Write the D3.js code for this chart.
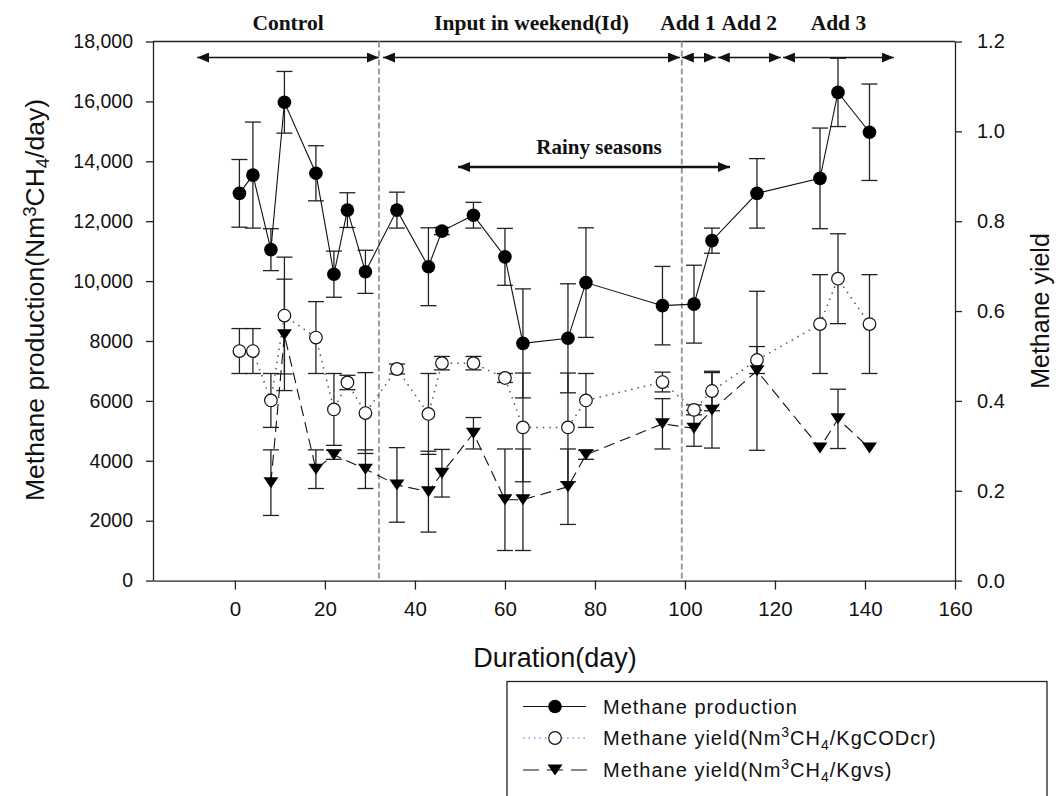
<!DOCTYPE html>
<html lang="en">
<head>
<meta charset="UTF-8">
<title>Methane production</title>
<script src="https://cdn.jsdelivr.net/npm/d3@7"></script>
<style>
    html, body {
        margin: 0;
        padding: 0;
        background: #fff;
    }
    svg text {
        font-family: "Liberation Sans", Arial, sans-serif;
        fill: #111;
    }
    .note {
        font-family: "Liberation Serif", "Times New Roman", serif;
        font-weight: bold;
    }
</style>
</head>
<body>
<svg id="chart" width="1056" height="796"></svg>
<script>
    // sampling days (all series except the Kgvs one)
    const days = [1, 4, 8, 11, 18, 22, 25, 29, 36, 43, 46, 53, 60, 64, 74, 78, 95, 102, 106, 116, 130, 134, 141];
    // Methane production (Nm3CH4/day) and its error
    const production = [12930, 13540, 11050, 15970, 13600, 10230, 12370, 10310, 12370, 10480, 11670, 12200, 10810,
        7920, 8090, 9950, 9180, 9230, 11350, 12930, 13430, 16300, 14970];
    const productionErr = [1130, 1770, 700, 1030, 920, 770, 580, 720, 600, 1300, 120, 430, 950,
        1820, 1820, 1830, 1310, 1300, 420, 1160, 1680, 1140, 1610];
    // Methane yield (Nm3CH4/KgCODcr)
    const codYield = [0.511, 0.511, 0.401, 0.590, 0.541, 0.381, 0.441, 0.373, 0.471, 0.371, 0.484, 0.484, 0.451,
        0.341, 0.341, 0.401, 0.442, 0.380, 0.422, 0.491, 0.571, 0.672, 0.571];
    const codErr = [0.05, 0.05, 0.06, 0.13, 0.08, 0.08, 0.016, 0.09, 0.011, 0.09, 0.015, 0.015, 0.01,
        0.121, 0.121, 0.06, 0.022, 0.011, 0.044, 0.03, 0.11, 0.1, 0.11];
    // Methane yield (Nm3CH4/Kgvs)
    const vsDays = [8, 11, 18, 22, 29, 36, 43, 46, 53, 60, 64, 74, 78, 95, 102, 106, 116, 130, 134, 141];
    const vsYield = [0.218, 0.547, 0.248, 0.280, 0.248, 0.213, 0.198, 0.239, 0.328, 0.180, 0.180, 0.209, 0.280,
        0.349, 0.339, 0.379, 0.467, 0.295, 0.360, 0.295];
    const vsErr = [0.073, 0.124, 0.043, 0.01, 0.043, 0.083, 0.09, 0.053, 0.035, 0.113, 0.113, 0.084, 0.01,
        0.056, 0.04, 0.084, 0.177, 0, 0.066, 0];

    const xTicks = [0, 20, 40, 60, 80, 100, 120, 140, 160];
    const leftTicks = [0, 2000, 4000, 6000, 8000, 10000, 12000, 14000, 16000, 18000];
    const rightTicks = [0, 0.2, 0.4, 0.6, 0.8, 1.0, 1.2];

    // operating periods (days)
    const periodLabels = ["Control", "Input in weekend(Id)", "Add 1", "Add 2", "Add 3"];
    const periodStart = [-8.4, 32.9, 99.3, 107.3, 121.8];
    const periodEnd = [32, 98.9, 106.9, 121.3, 146.4];
    const phaseLines = [32, 99.3];
    const rainyStart = 49.6, rainyEnd = 110;

    const svg = d3.select("#chart");

    const x = d3.scaleLinear().domain([-18.2, 160]).range([153, 955]);
    const yL = d3.scaleLinear().domain([0, 18000]).range([580.6, 41.5]);
    const yR = d3.scaleLinear().domain([0, 1.2]).range([580.6, 41.5]);

    // arrow head
    svg.append("defs").append("marker")
        .attr("id", "head")
        .attr("viewBox", "0 0 12 10")
        .attr("refX", 12).attr("refY", 5)
        .attr("markerWidth", 12).attr("markerHeight", 10)
        .attr("markerUnits", "userSpaceOnUse")
        .attr("orient", "auto-start-reverse")
        .append("path").attr("d", "M0,0L12,5L0,10Z").attr("fill", "#111");

    // axes
    const styleAxis = size => g => {
        g.selectAll("path, line").attr("stroke", "#222").attr("stroke-width", 1.3);
        g.selectAll("text").style("font-size", size).attr("fill", "#111");
    };

    svg.append("g")
        .attr("transform", "translate(153,0)")
        .call(d3.axisLeft(yL).tickValues(leftTicks).tickSize(7).tickSizeOuter(0).tickPadding(13)
            .tickFormat(v => v >= 10000 ? d3.format(",")(v) : v))
        .call(styleAxis("19.5px"));

    svg.append("g")
        .attr("transform", "translate(955,0)")
        .call(d3.axisRight(yR).tickValues(rightTicks).tickSize(7).tickSizeOuter(0).tickPadding(15)
            .tickFormat(d3.format(".1f")))
        .call(styleAxis("20px"));

    svg.append("g")
        .attr("transform", "translate(0,580.6)")
        .call(d3.axisBottom(x).tickValues(xTicks).tickSize(9).tickSizeOuter(0).tickPadding(12))
        .call(styleAxis("20.5px"));

    // top frame
    svg.append("line")
        .attr("x1", x.range()[0]).attr("x2", x.range()[1])
        .attr("y1", yL.range()[1]).attr("y2", yL.range()[1])
        .attr("stroke", "#222").attr("stroke-width", 1.3);

    // axis titles
    svg.append("text")
        .attr("x", 555).attr("y", 667)
        .attr("text-anchor", "middle")
        .style("font-size", "27px")
        .text("Duration(day)");

    const leftTitle = svg.append("text")
        .attr("transform", "translate(44,300) rotate(-90)")
        .attr("text-anchor", "middle")
        .style("font-size", "26.5px");
    richText(leftTitle, [["Methane production(Nm", ""], ["3", "sup"], ["CH", ""], ["4", "sub"], ["/day)", ""]]);

    svg.append("text")
        .attr("transform", "translate(1049,311) rotate(-90)")
        .attr("text-anchor", "middle")
        .style("font-size", "25px")
        .text("Methane yield");

    // phase boundaries
    svg.selectAll(".phase")
        .data(phaseLines)
        .enter().append("line")
        .attr("class", "phase")
        .attr("x1", d => x(d)).attr("x2", d => x(d))
        .attr("y1", yL.range()[1]).attr("y2", yL.range()[0])
        .attr("stroke", "#9a9a9a").attr("stroke-width", 2)
        .attr("stroke-dasharray", "6,3");

    // period arrows and labels
    const arrowY = 57.5;
    periodLabels.forEach((label, i) => {
        svg.append("line")
            .attr("x1", x(periodStart[i])).attr("x2", x(periodEnd[i]))
            .attr("y1", arrowY).attr("y2", arrowY)
            .attr("stroke", "#111").attr("stroke-width", 1.5)
            .attr("marker-start", "url(#head)").attr("marker-end", "url(#head)");
        const shift = label === "Add 1" ? -11 : 0;
        svg.append("text")
            .attr("class", "note")
            .attr("x", (x(periodStart[i]) + x(periodEnd[i])) / 2 + shift)
            .attr("y", 30)
            .attr("text-anchor", "middle")
            .style("font-size", "21.5px")
            .text(label);
    });

    svg.append("line")
        .attr("x1", x(rainyStart)).attr("x2", x(rainyEnd))
        .attr("y1", 167).attr("y2", 167)
        .attr("stroke", "#111").attr("stroke-width", 2.5)
        .attr("marker-start", "url(#head)").attr("marker-end", "url(#head)");
    svg.append("text")
        .attr("class", "note")
        .attr("x", (x(rainyStart) + x(rainyEnd)) / 2 + 5)
        .attr("y", 154)
        .attr("text-anchor", "middle")
        .style("font-size", "21px")
        .text("Rainy seasons");

    // error bars
    function errorBars(xs, ys, es, yScale) {
        const g = svg.append("g").attr("stroke", "#222").attr("stroke-width", 1.3);
        xs.forEach((d, i) => {
            if (!es[i]) return;
            const cx = x(d), top = yScale(ys[i] + es[i]), bot = yScale(ys[i] - es[i]);
            g.append("line").attr("x1", cx).attr("x2", cx).attr("y1", top).attr("y2", bot);
            g.append("line").attr("x1", cx - 8).attr("x2", cx + 8).attr("y1", top).attr("y2", top);
            g.append("line").attr("x1", cx - 8).attr("x2", cx + 8).attr("y1", bot).attr("y2", bot);
        });
    }

    errorBars(days, production, productionErr, yL);
    errorBars(days, codYield, codErr, yR);
    errorBars(vsDays, vsYield, vsErr, yR);

    // connecting lines
    const lineL = d3.line().x(d => x(d[0])).y(d => yL(d[1]));
    const lineR = d3.line().x(d => x(d[0])).y(d => yR(d[1]));

    svg.append("path")
        .datum(d3.zip(days, production))
        .attr("d", lineL)
        .attr("fill", "none").attr("stroke", "#111").attr("stroke-width", 1.1);

    svg.append("path")
        .datum(d3.zip(days, codYield))
        .attr("d", lineR)
        .attr("fill", "none").attr("stroke", "#555").attr("stroke-width", 1.5)
        .attr("stroke-dasharray", "1.5,5");

    svg.append("path")
        .datum(d3.zip(vsDays, vsYield))
        .attr("d", lineR)
        .attr("fill", "none").attr("stroke", "#111").attr("stroke-width", 1.1)
        .attr("stroke-dasharray", "11,6");

    // markers
    const tri = "M-7.5,-5.5L7.5,-5.5L0,5.5Z";

    svg.append("g").selectAll("circle")
        .data(d3.zip(days, production))
        .enter().append("circle")
        .attr("cx", d => x(d[0])).attr("cy", d => yL(d[1]))
        .attr("r", 6.8).attr("fill", "#000");

    svg.append("g").selectAll("circle")
        .data(d3.zip(days, codYield))
        .enter().append("circle")
        .attr("cx", d => x(d[0])).attr("cy", d => yR(d[1]))
        .attr("r", 6.3).attr("fill", "#fff").attr("stroke", "#111").attr("stroke-width", 1.2);

    svg.append("g").selectAll("path")
        .data(d3.zip(vsDays, vsYield))
        .enter().append("path")
        .attr("transform", d => `translate(${x(d[0])},${yR(d[1])})`)
        .attr("d", tri).attr("fill", "#000");

    // legend
    const legend = svg.append("g");
    legend.append("rect")
        .attr("x", 507).attr("y", 681.5).attr("width", 540).attr("height", 140)
        .attr("fill", "none").attr("stroke", "#222").attr("stroke-width", 1.3);

    const rows = [706.5, 738, 770];
    legend.append("line").attr("x1", 523).attr("x2", 586).attr("y1", rows[0]).attr("y2", rows[0])
        .attr("stroke", "#111").attr("stroke-width", 1.2);
    legend.append("circle").attr("cx", 555).attr("cy", rows[0]).attr("r", 6.8).attr("fill", "#000");

    legend.append("line").attr("x1", 523).attr("x2", 586).attr("y1", rows[1]).attr("y2", rows[1])
        .attr("stroke", "#c77ee8").attr("stroke-width", 1.5).attr("stroke-dasharray", "1.5,4");
    legend.append("circle").attr("cx", 555).attr("cy", rows[1]).attr("r", 6.3)
        .attr("fill", "#fff").attr("stroke", "#111").attr("stroke-width", 1.2);

    legend.append("line").attr("x1", 523).attr("x2", 587).attr("y1", rows[2]).attr("y2", rows[2])
        .attr("stroke", "#111").attr("stroke-width", 1.2).attr("stroke-dasharray", "16,8");
    legend.append("path").attr("transform", `translate(555,${rows[2]})`).attr("d", tri).attr("fill", "#000");

    const legendText = (y, parts) => {
        const t = legend.append("text").attr("x", 603).attr("y", y + 7)
            .style("font-size", "20px").style("letter-spacing", "1px");
        richText(t, parts);
    };
    legendText(rows[0], [["Methane production", ""]]);
    legendText(rows[1], [["Methane yield(Nm", ""], ["3", "sup"], ["CH", ""], ["4", "sub"], ["/KgCODcr)", ""]]);
    legendText(rows[2], [["Methane yield(Nm", ""], ["3", "sup"], ["CH", ""], ["4", "sub"], ["/Kgvs)", ""]]);

    // text with super/subscripts
    function richText(t, parts) {
        let shift = 0;
        parts.forEach(([s, mode]) => {
            const target = mode === "sup" ? -8 : mode === "sub" ? 5 : 0;
            t.append("tspan")
                .attr("dy", target - shift)
                .style("font-size", mode ? "70%" : null)
                .text(s);
            shift = target;
        });
    }
</script>
</body>
</html>
